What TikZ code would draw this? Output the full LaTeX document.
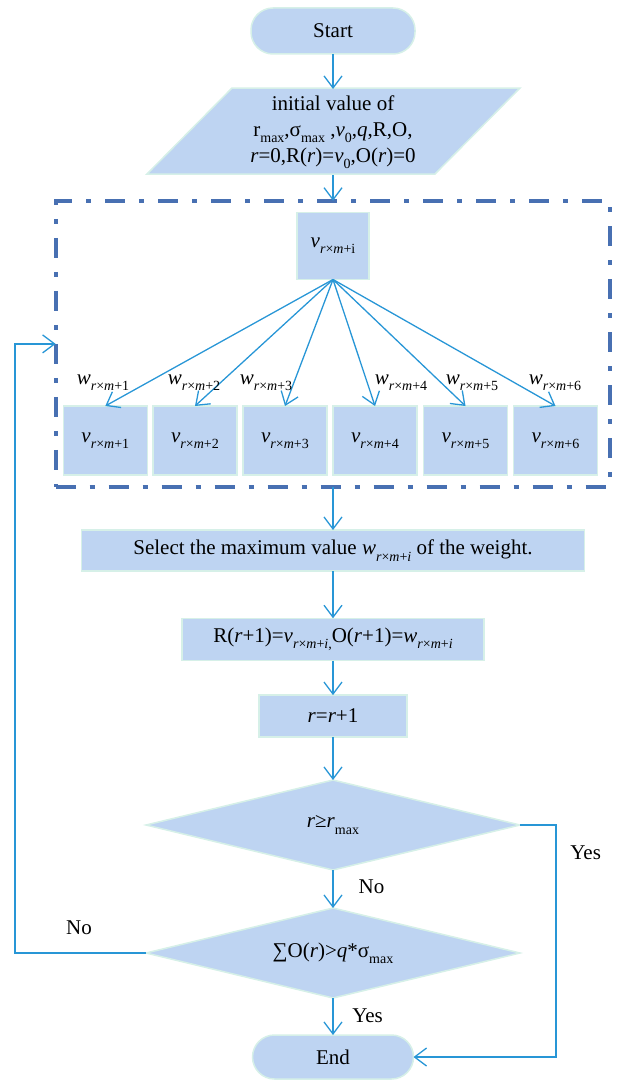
\documentclass[tikz,border=0pt]{standalone}
\usepackage{fontspec}
\setmainfont{Liberation Serif}
\usetikzlibrary{shapes.geometric,arrows.meta}
\definecolor{nfill}{RGB}{190,212,242}
\definecolor{nedge}{RGB}{214,240,232}
\definecolor{arrc}{RGB}{40,150,214}
\definecolor{dashc}{RGB}{72,112,178}
\newcommand\subs[1]{\raisebox{-0.3em}{\fontsize{14}{14}\selectfont #1}}
\newcommand\ii[1]{\textit{#1}}
\begin{document}
\begin{tikzpicture}[x=1pt,y=-1pt,
 every node/.style={font=\fontsize{21}{26}\selectfont, inner sep=0pt, outer sep=0pt},
 box/.style={draw=nedge, fill=nfill, line width=1.5pt, rectangle, align=center},
 term/.style={box, rounded corners=22pt},
 dec/.style={box, diamond, aspect=4.156, minimum width=374pt, minimum height=90pt},
 vbox/.style={box, minimum width=84pt, minimum height=69pt},
 arr/.style={draw=arrc, line width=1.3pt, -{Straight Barb[length=12pt,width=18pt]}},
 grpbox/.style={draw=dashc, line width=4pt, dash pattern=on 20pt off 14pt on 5pt off 14pt, minimum width=553.8pt, minimum height=286.3pt},
]
\useasboundingbox (0,0) rectangle (618,1081);

% terminals
\node[term, minimum width=164pt, minimum height=46pt] (start) at (333,31) {Start};

% parallelogram
\draw[draw=nedge, fill=nfill, line width=1.5pt] (147,174) -- (435,174) -- (520,88) -- (232,88) -- cycle;
\node[minimum width=288pt, minimum height=86pt, align=center] (init) at (333,132)
 {initial value of\\
  r\subs{max},σ\subs{max} ,\ii{v}\subs{0},\ii{q},R,O,\\
  \ii{r}=0,R(\ii{r})=\ii{v}\subs{0},O(\ii{r})=0};

% group box
\node[grpbox] (grp) at (332.6,343.9) {};
\node[box, minimum width=72pt, minimum height=67pt] (vtop) at (333,246) {\ii{v}\subs{\ii{r}×\ii{m}+i}};

\foreach \k/\x/\lx in {1/105.3/103,2/195/194,3/285/266,4/375/401,5/465.5/472,6/555.5/555}{
  \node[vbox] (b\k) at (\x,440.5) {\ii{v}\subs{\ii{r}×\ii{m}+\k}};
  \draw[arr] (vtop.south) -- (b\k.north);
  \node[anchor=base] (w\k) at (\lx,384) {\ii{w}\subs{\ii{r}×\ii{m}+\k}};
}

% process boxes
\node[box, minimum width=503pt, minimum height=41pt] (sel) at (333,550.5)
 {Select the maximum value \ii{w}\subs{\ii{r}×\ii{m}+\ii{i}} of the weight.};
\node[box, minimum width=302pt, minimum height=42.4pt] (rb) at (333,639.5)
 {R(\ii{r}+1)=\ii{v}\subs{\ii{r}×\ii{m}+\ii{i},}O(\ii{r}+1)=\ii{w}\subs{\ii{r}×\ii{m}+\ii{i}}};
\node[box, minimum width=148pt, minimum height=41.7pt] (inc) at (333,716) {\ii{r}=\ii{r}+1};

% decisions
\node[dec] (d1) at (333,825) {\ii{r}≥\ii{r}\subs{max}};
\node[dec] (d2) at (333,953) {∑O(\ii{r})>\ii{q}*σ\subs{max}};

\node[term, minimum width=161pt, minimum height=44pt] (end) at (333,1057) {End};

% connectors
\draw[arr] (start.south) -- (init.north);
\draw[arr] (init.south) -- (init.south |- grp.north);
\draw[arr] (sel.north |- grp.south) -- (sel.north);
\draw[arr] (sel.south) -- (rb.north);
\draw[arr] (rb.south) -- (inc.north);
\draw[arr] (inc.south) -- (d1.north);
\draw[arr] (d1.south) -- (d2.north);
\draw[arr] (d2.south) -- (end.north);

\coordinate (fbl) at (15,343.9);
\draw[arr] (d2.west) -| (fbl) -- (grp.west);
\coordinate (ryes) at (556,825);
\draw[arr] (d1.east) -- (ryes) |- (end.east);

% labels
\node (no1) at (371.5,886.7) {No};
\node (yes1) at (585.7,852.7) {Yes};
\node (no2) at (79,928) {No};
\node (yes2) at (367.6,1016) {Yes};
\end{tikzpicture}
\end{document}
